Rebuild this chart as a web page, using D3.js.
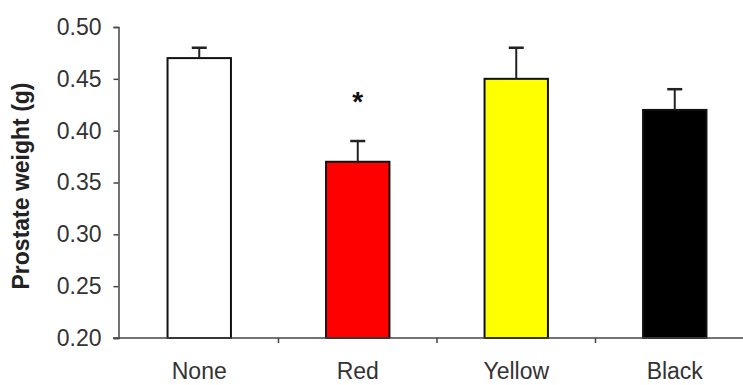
<!DOCTYPE html>
<html>
<head>
<meta charset="utf-8">
<script src="https://cdn.jsdelivr.net/npm/d3@7"></script>
<style>
  body { margin: 0; background: #fff; }
  text { font-family: "Liberation Sans", Arial, sans-serif; fill: #333; }
</style>
</head>
<body>
<svg id="chart" width="743" height="385"></svg>
<script>
// data
var categories = ["None", "Red", "Yellow", "Black"]
var weights    = [0.47, 0.37, 0.45, 0.42]
var errors     = [0.01, 0.02, 0.03, 0.02]
var fills      = ["#ffffff", "#ff0000", "#ffff00", "#000000"]
var significant = [false, true, false, false]
var yTicks     = [0.20, 0.25, 0.30, 0.35, 0.40, 0.45, 0.50]

var svg = d3.select("#chart")

var x = d3.scaleBand().domain(categories).range([120, 754]).paddingInner(0.6).paddingOuter(0.3)
var y = d3.scaleLinear().domain([0.2, 0.5]).range([338, 27])

var data = categories.map(function(c, i){
    return {cat: c, v: weights[i], e: errors[i], fill: fills[i], sig: significant[i]}
})

// bars
svg.selectAll("rect.bar")
    .data(data)
    .enter()
        .append("rect")
        .attr("class", "bar")
        .attr("x", function(d){return x(d.cat)})
        .attr("y", function(d){return y(d.v)})
        .attr("width", x.bandwidth())
        .attr("height", function(d){return y(0.2) - y(d.v)})
        .attr("fill", function(d){return d.fill})
        .attr("stroke", "#111")
        .attr("stroke-width", 2)

// error bars (upper only)
var err = svg.selectAll("g.err").data(data).enter().append("g").attr("class", "err")
err.append("line")
    .attr("x1", function(d){return x(d.cat) + x.bandwidth() / 2})
    .attr("x2", function(d){return x(d.cat) + x.bandwidth() / 2})
    .attr("y1", function(d){return y(d.v)})
    .attr("y2", function(d){return y(d.v + d.e)})
    .attr("stroke", "#222").attr("stroke-width", 2)
err.append("line")
    .attr("x1", function(d){return x(d.cat) + x.bandwidth() / 2 - 7.5})
    .attr("x2", function(d){return x(d.cat) + x.bandwidth() / 2 + 7.5})
    .attr("y1", function(d){return y(d.v + d.e)})
    .attr("y2", function(d){return y(d.v + d.e)})
    .attr("stroke", "#222").attr("stroke-width", 2.5)

// significance star
svg.selectAll("text.star")
    .data(data.filter(function(d){return d.sig}))
    .enter()
        .append("text")
        .attr("class", "star")
        .attr("x", function(d){return x(d.cat) + x.bandwidth() / 2})
        .attr("y", function(d){return y(d.v + d.e) - 30})
        .attr("text-anchor", "middle")
        .style("font-size", "28px")
        .style("font-weight", "bold")
        .style("fill", "#111")
        .text("*")

// y axis
var yAxis = d3.axisLeft(y).tickValues(yTicks).tickFormat(d3.format(".2f")).tickSize(5).tickPadding(12)
var gy = svg.append("g").attr("transform", "translate(118.5,0)").call(yAxis)
gy.select(".domain").attr("stroke", "#444").attr("stroke-width", 1.5)
gy.selectAll(".tick line").attr("stroke", "#444").attr("stroke-width", 1.5)
gy.selectAll(".tick text").style("font-size", "23px").style("font-family", "Liberation Sans, Arial, sans-serif").attr("fill", "#333")

// x axis line with ticks between categories
svg.append("line")
    .attr("x1", 113).attr("x2", 754)
    .attr("y1", y(0.2)).attr("y2", y(0.2))
    .attr("stroke", "#444").attr("stroke-width", 1.5)

svg.selectAll("line.xtick")
    .data(categories.slice(0, categories.length - 1))
    .enter()
        .append("line")
        .attr("class", "xtick")
        .attr("x1", function(c){return x(c) + x.bandwidth() / 2 + x.step() / 2})
        .attr("x2", function(c){return x(c) + x.bandwidth() / 2 + x.step() / 2})
        .attr("y1", y(0.2)).attr("y2", y(0.2) + 5)
        .attr("stroke", "#444").attr("stroke-width", 1.5)

svg.selectAll("text.xlabel")
    .data(categories)
    .enter()
        .append("text")
        .attr("class", "xlabel")
        .attr("x", function(c){return x(c) + x.bandwidth() / 2})
        .attr("y", y(0.2) + 41)
        .attr("text-anchor", "middle")
        .style("font-size", "23px")
        .text(function(c){return c})

// y axis title
svg.append("text")
    .attr("transform", "translate(29,186) rotate(-90)")
    .attr("text-anchor", "middle")
    .style("font-size", "23px")
    .style("font-weight", "bold")
    .style("fill", "#222")
    .text("Prostate weight (g)")
</script>
</body>
</html>
